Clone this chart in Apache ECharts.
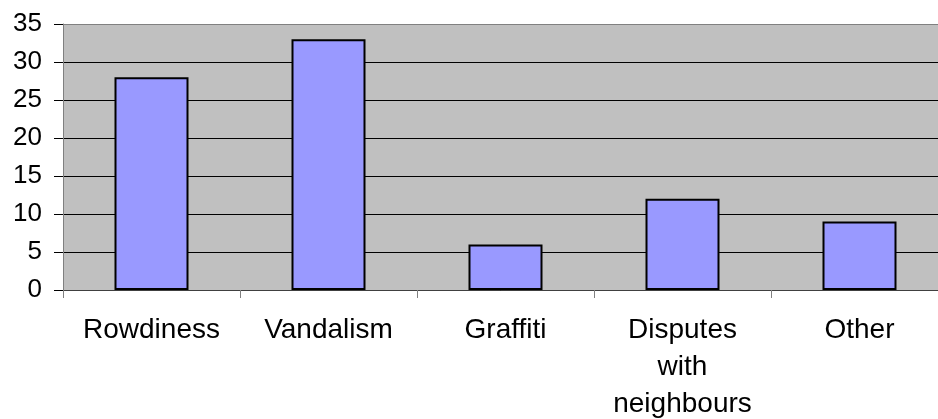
<!DOCTYPE html>
<html>
<head>
<meta charset="utf-8">
<script src="https://cdn.jsdelivr.net/npm/echarts@6/dist/echarts.min.js"></script>
<style>
    html, body { margin: 0; padding: 0; background: #fff; }
    #chart { width: 938px; height: 419px; }
</style>
</head>
<body>
<div id="chart"></div>
<script>
// categories and counts
const categories = ['Rowdiness', 'Vandalism', 'Graffiti', 'Disputes\nwith\nneighbours', 'Other'];
const counts = [28, 33, 6, 12, 9];
const yTicks = [0, 5, 10, 15, 20, 25, 30, 35];

const font = 'Liberation Sans, Arial, sans-serif';

const myChart = echarts.init(document.getElementById('chart'));

// grid lines black, the top one (35) grey like the plot border
const gridColors = yTicks.map(function (v) { return v === 35 ? '#808080' : '#000000'; });

myChart.setOption({
    animation: false,
    grid: {
        left: 63,
        top: 24,
        height: 266,
        width: 885,   // plot runs past the right edge of the picture
        outerBoundsMode: 'none',
        containLabel: false,
        show: true,
        backgroundColor: '#c0c0c0',
        borderWidth: 0
    },
    xAxis: {
        type: 'category',
        data: categories,
        axisLine: { lineStyle: { color: '#404040', width: 1 } },
        axisTick: { show: true, alignWithLabel: false, length: 8, lineStyle: { color: '#808080' } },
        axisLabel: {
            color: '#000',
            fontFamily: font,
            fontSize: 28,
            lineHeight: 37,
            margin: 22,
            interval: 0
        }
    },
    yAxis: {
        type: 'value',
        min: 0,
        max: 35,
        interval: 5,
        axisLine: { show: true, lineStyle: { color: '#808080', width: 1 } },
        axisTick: { show: true, length: 9, lineStyle: { color: '#000' } },
        axisLabel: {
            color: '#000',
            fontFamily: font,
            fontSize: 26,
            margin: 21
        },
        splitLine: { show: true, lineStyle: { color: gridColors, width: 1 } }
    },
    series: [{
        type: 'bar',
        data: counts,
        barWidth: 74,
        itemStyle: {
            color: '#9999ff',
            borderColor: '#000',
            borderWidth: 2
        }
    }]
});
</script>
</body>
</html>
